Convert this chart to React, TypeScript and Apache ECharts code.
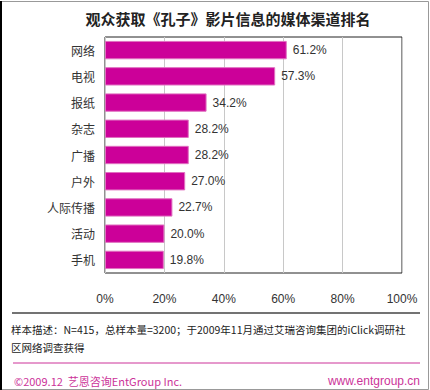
import React, { useEffect, useRef } from "react";
import * as echarts from "echarts";

const categories = ["网络", "电视", "报纸", "杂志", "广播", "户外", "人际传播", "活动", "手机"];
const values = [61.2, 57.3, 34.2, 28.2, 28.2, 27.0, 22.7, 20.0, 19.8];
const title = "观众获取《孔子》影片信息的媒体渠道排名";
const note1 = "样本描述：N=415，总样本量=3200；于2009年11月通过艾瑞咨询集团的iClick调研社";
const note2 = "区网络调查获得";
const footLeft = "©2009.12  艺恩咨询EntGroup Inc.";
const footRight = "www.entgroup.cn";

const CJK = "'Noto Sans CJK SC', 'Liberation Sans', sans-serif";
const LAT = "'Liberation Sans', 'Noto Sans CJK SC', sans-serif";

export default function App() {
  const ref = useRef<HTMLDivElement>(null);
  useEffect(() => {
    const chart = echarts.init(ref.current!, null, { renderer: "svg" });
    chart.setOption({
      animation: false,
      backgroundColor: "#fff",
      grid: {
        left: 105,
        top: 37,
        width: 297,
        height: 236,
        show: true,
        borderColor: "#222",
        borderWidth: 1,
        backgroundColor: "transparent",
      },
      xAxis: {
        type: "value",
        min: 0,
        max: 100,
        interval: 20,
        axisLine: { show: false },
        axisTick: { show: false },
        splitLine: { show: true, lineStyle: { color: "#c8c8c8", width: 1 } },
        axisLabel: {
          formatter: "{value}%",
          margin: 20,
          fontSize: 12,
          color: "#333",
          fontFamily: LAT,
        },
      },
      yAxis: {
        type: "category",
        data: categories,
        inverse: true,
        axisLine: { show: false },
        axisTick: { show: false },
        axisLabel: { margin: 10, fontSize: 12, color: "#333", fontFamily: CJK },
      },
      series: [
        {
          type: "bar",
          data: values,
          barCategoryGap: "30%",
          itemStyle: { color: "#CC0099", borderColor: "#E070C0", borderWidth: 1 },
          label: {
            show: true,
            position: "right",
            distance: 6,
            fontSize: 12,
            color: "#333",
            fontFamily: LAT,
            formatter: (p: any) => p.value.toFixed(1) + "%",
          },
        },
      ],
      graphic: [
        { type: "rect", shape: { x: 0.5, y: 1.5, width: 428, height: 388 }, style: { fill: "none", stroke: "#999", lineWidth: 1 }, silent: true },
        { type: "line", shape: { x1: 1, y1: 1, x2: 1, y2: 390 }, style: { stroke: "#000", lineWidth: 2 } },
        {
          type: "text",
          x: 228,
          y: 18,
          style: { text: title, fill: "#222", font: `bold 15px ${CJK}`, align: "center", verticalAlign: "middle" },
        },
        { type: "line", shape: { x1: 12, y1: 313, x2: 420, y2: 313 }, style: { stroke: "#444", lineWidth: 1.5 } },
        {
          type: "text",
          x: 11,
          y: 329,
          style: { text: note1, fill: "#222", font: `10.5px ${CJK}`, verticalAlign: "middle" },
        },
        {
          type: "text",
          x: 11,
          y: 347,
          style: { text: note2, fill: "#222", font: `10.5px ${CJK}`, verticalAlign: "middle" },
        },
        { type: "line", shape: { x1: 13, y1: 363, x2: 420, y2: 363 }, style: { stroke: "#CC3399", lineWidth: 1 } },
        {
          type: "text",
          x: 14,
          y: 381,
          style: { text: footLeft, fill: "#CC3399", font: `11px ${CJK}`, verticalAlign: "middle" },
        },
        {
          type: "text",
          x: 420,
          y: 381,
          style: { text: footRight, fill: "#CC3399", font: `12px ${LAT}`, align: "right", verticalAlign: "middle" },
        },
      ],
    });
    return () => chart.dispose();
  }, []);
  return <div ref={ref} style={{ position: "fixed", left: 0, top: 0, width: 430, height: 390 }} />;
}
